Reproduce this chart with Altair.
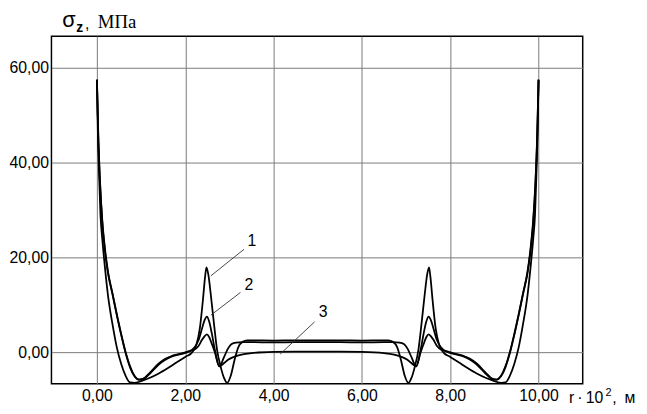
import altair as alt
import pandas as pd

# ---- curve data ----
x1 = [0, 0.02, 0.05, 0.08, 0.12, 0.18, 0.25, 0.35, 0.45, 0.55, 0.65, 0.75, 0.85, 1.0, 1.2, 1.4, 1.6, 1.8,
      2.0, 2.15, 2.25, 2.33, 2.4, 2.45, 2.48, 2.52, 2.58, 2.65, 2.72, 2.8, 2.88, 2.95, 3.03, 3.12, 3.2, 3.3,
      3.4, 3.5, 4.0, 4.5, 5.0,
      5.5, 6.0, 6.5, 6.6, 6.7, 6.8, 6.88, 6.97, 7.05, 7.12, 7.2, 7.28, 7.35, 7.42, 7.48, 7.52, 7.55, 7.6,
      7.67, 7.75, 7.85, 8.0, 8.2, 8.4, 8.6, 8.8, 9.0, 9.15, 9.25, 9.35, 9.45, 9.55, 9.65, 9.75, 9.82, 9.88,
      9.92, 9.95, 9.98, 10.0]
y1 = [57.5, 47, 37, 29, 24, 18, 12, 6, 1.0, -2.5, -5.0, -6.4, -6.5, -6.1, -5.4, -4.5, -3.4, -2.2,
      -1.0, -0.1, 1.5, 5.0, 11, 16, 17.9, 16.5, 12, 6, 0.5, -3.0, -5.5, -6.5, -5.0, -1.5, 1.0, 2.2,
      2.5, 2.5, 2.45, 2.5, 2.5,
      2.5, 2.45, 2.5, 2.5, 2.2, 1.0, -1.5, -5.0, -6.5, -5.5, -3.0, 0.5, 6, 12, 16.5, 17.9, 16, 11,
      5.0, 1.5, -0.1, -1.0, -2.2, -3.4, -4.5, -5.4, -6.1, -6.5, -6.4, -5.0, -2.5, 1.0, 6, 12, 18, 24,
      29, 37, 47, 57.5]

x2 = [0, 0.03, 0.07, 0.12, 0.18, 0.25, 0.35, 0.45, 0.55, 0.65, 0.75, 0.85, 0.95, 1.05, 1.2, 1.4, 1.55,
      1.7, 1.9, 2.05, 2.2, 2.3, 2.38, 2.44, 2.49, 2.54, 2.6, 2.67, 2.77, 2.88, 2.97, 3.05, 3.15, 3.3, 3.5,
      4.0, 4.5, 5.0,
      5.5, 6.0, 6.5, 6.7, 6.85, 6.95, 7.03, 7.12, 7.23, 7.33, 7.4, 7.46, 7.51, 7.56, 7.62, 7.7, 7.8, 7.95,
      8.1, 8.3, 8.45, 8.6, 8.8, 8.95, 9.05, 9.15, 9.25, 9.35, 9.45, 9.55, 9.65, 9.75, 9.82, 9.88, 9.93,
      9.97, 10.0]
y2 = [57.5, 46, 36, 28, 22, 17, 12.5, 8.0, 3.8, 0.0, -3.0, -5.0, -5.8, -5.7, -4.5, -2.6, -1.6,
      -0.9, -0.4, 0.0, 0.9, 2.5, 5.0, 6.8, 7.5, 6.5, 4.0, 0.5, -3.0, -1.0, 0.8, 1.7, 2.0, 2.1, 2.1,
      2.05, 2.1, 2.1,
      2.1, 2.05, 2.1, 2.1, 2.0, 1.7, 0.8, -1.0, -3.0, 0.5, 4.0, 6.5, 7.5, 6.8, 5.0, 2.5, 0.9, 0.0,
      -0.4, -0.9, -1.6, -2.6, -4.5, -5.7, -5.8, -5.0, -3.0, 0.0, 3.8, 8.0, 12.5, 17, 22, 28, 36,
      46, 57.5]

x3 = x2
y3 = [57.3, 45.5, 35.5, 27.5, 21.5, 16.7, 12.3, 7.8, 3.6, -0.2, -3.2, -5.1, -5.8, -5.6, -4.3, -2.4, -1.4,
      -0.8, -0.3, 0.1, 0.5, 1.3, 2.6, 3.4, 3.75, 3.2, 1.8, 0.0, -3.0, -2.3, -1.6, -1.2, -0.85, -0.45, -0.2,
      0.05, 0.1, 0.1,
      0.1, 0.05, -0.2, -0.45, -0.85, -1.2, -1.6, -2.3, -3.0, 0.0, 1.8, 3.2, 3.75, 3.4, 2.6, 1.3, 0.5, 0.1,
      -0.3, -0.8, -1.4, -2.4, -4.3, -5.6, -5.8, -5.1, -3.2, -0.2, 3.6, 7.8, 12.3, 16.7, 21.5, 27.5, 35.5,
      45.5, 57.3]

# curve labels and leader lines
lab_text = ["1", "2", "3"]
lab_x = [3.51, 3.44, 5.12]
lab_y = [23.4, 14.2, 8.5]
lead_x1 = [3.33, 3.25, 4.93]
lead_y1 = [21.7, 12.6, 6.4]
lead_x2 = [2.58, 2.58, 4.15]
lead_y2 = [16.1, 7.8, -0.4]

x_ticks = [0, 2, 4, 6, 8, 10]
y_ticks = [0, 20, 40, 60]

rows = []
for name, xs_, ys_ in (("1", x1, y1), ("2", x2, y2), ("3", x3, y3)):
    for a, b in zip(xs_, ys_):
        rows.append({"curve": name, "x": a, "y": b})
df = pd.DataFrame(rows)
labels_df = pd.DataFrame({"t": lab_text, "x": lab_x, "y": lab_y})
leaders_df = pd.DataFrame({"x": lead_x1, "y": lead_y1, "x2": lead_x2, "y2": lead_y2})

xs = alt.Scale(domain=[-1.03, 11.0], nice=False, zero=False)
ys = alt.Scale(domain=[-6.67, 66.67], nice=False, zero=False)
fmt = "replace(format(datum.value, '.2f'), '.', ',')"
SANS = "Liberation Sans"
SERIF = "Liberation Serif, DejaVu Serif, serif"

lines = alt.Chart(df).mark_line(color="black", strokeWidth=1.8, interpolate="monotone").encode(
    x=alt.X("x:Q", scale=xs, title=None,
            axis=alt.Axis(values=x_ticks, labelExpr=fmt, grid=True, ticks=False, domain=False,
                          labelPadding=4, labelFontSize=16, labelFont=SANS, labelColor="black")),
    y=alt.Y("y:Q", scale=ys, title=None,
            axis=alt.Axis(values=y_ticks, labelExpr=fmt, grid=True, ticks=False, domain=False,
                          labelPadding=3, labelFontSize=16, labelFont=SANS, labelColor="black")),
    detail="curve:N",
)

leaders = alt.Chart(leaders_df).mark_rule(color="#333333", strokeWidth=0.9).encode(
    x=alt.X("x:Q", scale=xs), y=alt.Y("y:Q", scale=ys), x2="x2:Q", y2="y2:Q"
)

labels = alt.Chart(labels_df).mark_text(font=SANS, fontSize=16, color="black",
                                        align="center", baseline="middle").encode(
    x=alt.X("x:Q", scale=xs), y=alt.Y("y:Q", scale=ys), text="t:N"
)

def txt(s, x, y, size, font=SANS, weight="normal", align="left"):
    return alt.Chart(pd.DataFrame({"t": [s]})).mark_text(
        font=font, fontSize=size, fontWeight=weight, color="black", align=align, baseline="alphabetic"
    ).encode(x=alt.value(x), y=alt.value(y), text="t:N")

title_parts = [
    txt("σ", 11, -9, 22),
    txt("z", 25, -4, 14, weight="bold"),
    txt(",", 34, -7, 16),
    txt("МПа", 47, -8, 19, font=SERIF),
    txt("r\u2009·\u200910", 524, 371, 16),
    txt("2", 561, 364, 11),
    txt(",\u2002м", 568, 371, 16),
]

chart = alt.layer(lines, leaders, labels, *title_parts).properties(
    width=538, height=352,
    autosize=alt.AutoSizeParams(type="none"),
    padding={"left": 44, "top": 26, "right": 57, "bottom": 20},
).configure_view(stroke="black", strokeWidth=1.5).configure_axis(
    gridColor="#7a7a7a", gridWidth=1, gridOpacity=1
)

chart.save("out.html", embed_options={"renderer": "svg", "actions": False})
